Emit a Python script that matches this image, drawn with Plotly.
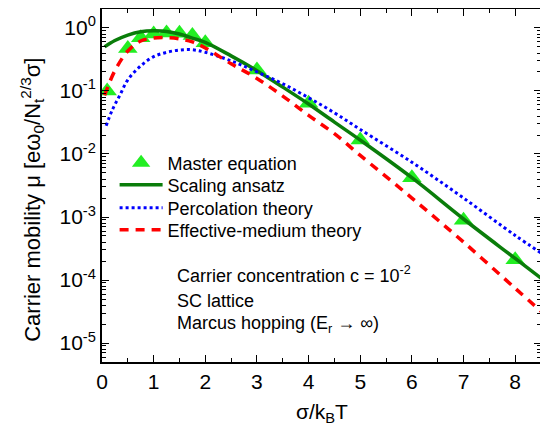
import plotly.graph_objects as go

# Master equation (triangles)
me_x = [0.1, 0.5, 0.75, 1.0, 1.25, 1.5, 1.75, 2.0, 3, 4, 5, 6, 7, 8]
me_y = [0.1, 0.47, 0.7, 0.8, 0.83, 0.82, 0.76, 0.58, 0.215, 0.064, 0.0166, 0.0042, 8.9e-4, 2.1e-4]

# Scaling ansatz (green solid)
sa_x = [0.05, 0.25, 0.5, 0.75, 1.0, 1.25, 1.5, 1.75, 2.0, 2.5, 3.0, 3.5, 4.0, 4.5, 5.0, 6.0, 7.0, 8.0, 8.5]
sa_y = [0.50, 0.63, 0.77, 0.87, 0.90, 0.88, 0.80, 0.69, 0.59, 0.36, 0.21, 0.115, 0.062, 0.032, 0.0166,
        0.0042, 9.3e-4, 2.2e-4, 1.07e-4]

# Percolation theory (blue dotted)
pt_x = [0.08, 0.2, 0.35, 0.5, 0.75, 1.0, 1.25, 1.5, 1.75, 2.0, 2.5, 3.0, 3.5, 4.0, 4.5, 5.0, 6.0, 7.0, 8.0, 8.5]
pt_y = [0.028, 0.05, 0.087, 0.15, 0.25, 0.35, 0.41, 0.445, 0.45, 0.41, 0.30, 0.20, 0.13, 0.078, 0.045,
        0.0245, 0.0074, 0.002, 5.1e-4, 2.7e-4]

# Effective-medium theory (red dashed)
em_x = [0.05, 0.25, 0.5, 0.75, 1.0, 1.25, 1.5, 1.75, 2.0, 2.5, 3.0, 3.5, 4.0, 4.5, 5.0, 6.0, 7.0, 8.0, 8.5]
em_y = [0.085, 0.21, 0.43, 0.62, 0.69, 0.70, 0.67, 0.60, 0.48, 0.27, 0.158, 0.083, 0.041, 0.021, 0.0095,
        0.002, 4.0e-4, 7.4e-5, 3.2e-5]

y_tickvals = [1, 1e-1, 1e-2, 1e-3, 1e-4, 1e-5]
y_ticktext = ["10<sup>0</sup>", "10<sup>-1</sup>", "10<sup>-2</sup>", "10<sup>-3</sup>",
              "10<sup>-4</sup>", "10<sup>-5</sup>"]
y_minor = [m * 10.0 ** e for e in range(-6, 1) for m in range(2, 10)]

FONT = "Liberation Sans, Arial, sans-serif"
LEG_FONT = 18

fig = go.Figure()
fig.add_trace(go.Scatter(x=me_x, y=me_y, mode="markers", name="Master equation", legend="legend",
                         marker=dict(symbol="triangle-up", size=17, color="#22ee22",
                                     line=dict(width=0))))
fig.add_trace(go.Scatter(x=sa_x, y=sa_y, mode="lines", name="Scaling ansatz", legend="legend2",
                         line=dict(color="#0a7d0a", width=3.5, shape="spline")))
fig.add_trace(go.Scatter(x=pt_x, y=pt_y, mode="lines", name="Percolation theory", legend="legend3",
                         line=dict(color="#0000ff", width=3, dash="dot", shape="spline")))
fig.add_trace(go.Scatter(x=em_x, y=em_y, mode="lines", name="Effective-medium theory", legend="legend4",
                         line=dict(color="#ff0000", width=3.5, dash="9px,7px", shape="spline")))


def leg(y):
    return dict(x=0.0287, y=y, xanchor="left", yanchor="middle", bgcolor="rgba(0,0,0,0)",
                font=dict(size=LEG_FONT), itemwidth=43, borderwidth=0)


# the page body adds an 8px offset; figure is sized so the plot area lands at
# x 102..541, y 9..362 in the 548x429 window
fig.update_layout(
    width=540, height=421,
    margin=dict(l=94, r=7, t=1, b=67, autoexpand=False),
    paper_bgcolor="white", plot_bgcolor="white",
    font=dict(family=FONT, color="black", size=18),
    showlegend=True,
    legend=leg(0.5637), legend2=leg(0.5014), legend3=leg(0.4363), legend4=leg(0.3739),
)

fig.update_xaxes(
    range=[0, 8.5], dtick=1, tick0=0, automargin=False,
    showline=True, linecolor="black", linewidth=1.8, mirror="ticks",
    ticks="inside", ticklen=7, tickwidth=1.3, tickcolor="black",
    minor=dict(dtick=0.5, ticks="inside", ticklen=4, tickwidth=1.3, tickcolor="black"),
    showgrid=False, zeroline=False,
    tickfont=dict(size=21),
)
fig.update_yaxes(
    type="log", range=[-5.3, 0.3], automargin=False,
    tickmode="array", tickvals=y_tickvals, ticktext=y_ticktext,
    showline=True, linecolor="black", linewidth=1.8, mirror="ticks",
    ticks="inside", ticklen=7, tickwidth=1.3, tickcolor="black",
    minor=dict(tickmode="array", tickvals=y_minor, ticks="inside", ticklen=4, tickwidth=1.1,
               tickcolor="black"),
    showgrid=False, zeroline=False,
    tickfont=dict(size=21),
)

# axis titles
fig.add_annotation(x=0.5, y=-0.145, xref="paper", yref="paper", xanchor="center", yanchor="middle",
                   text="σ/k<sub>B</sub>T", showarrow=False, font=dict(size=21))
fig.add_annotation(x=-0.159, y=0.46, xref="paper", yref="paper", xanchor="center", yanchor="middle",
                   textangle=-90,
                   text="Carrier mobility μ [eω<sub>0</sub>/N<sub>t</sub><sup>2/3</sup>σ]",
                   showarrow=False, font=dict(size=22))

ann_x = 0.166
fig.add_annotation(x=ann_x, y=0.2465, xref="paper", yref="paper", xanchor="left", yanchor="middle",
                   text="Carrier concentration c = 10<sup>-2</sup>", showarrow=False,
                   font=dict(size=18))
fig.add_annotation(x=ann_x, y=0.1728, xref="paper", yref="paper", xanchor="left", yanchor="middle",
                   text="SC lattice", showarrow=False, font=dict(size=18))
fig.add_annotation(x=ann_x, y=0.1076, xref="paper", yref="paper", xanchor="left", yanchor="middle",
                   text="Marcus hopping (E<sub>r</sub> → ∞)", showarrow=False, font=dict(size=18))

fig.write_html("out.html")
